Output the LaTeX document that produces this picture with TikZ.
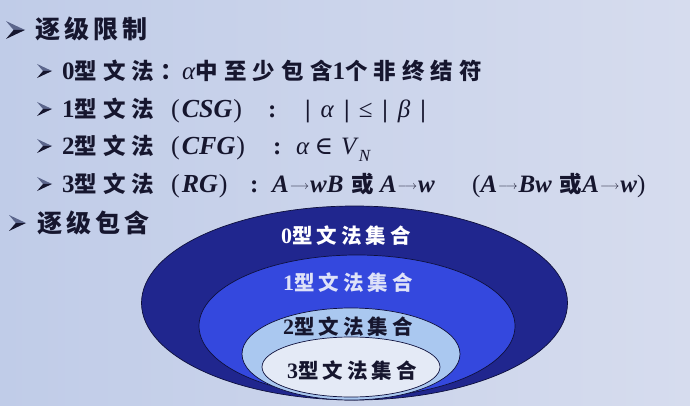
\documentclass[tikz,border=0pt]{standalone}
\usepackage{fontspec}
\setmainfont{Liberation Serif}
\newfontfamily\cjk{Noto Sans CJK SC}
\newfontfamily\symserif{DejaVu Serif}
% CJK run with extra tracking
\newcommand\zh[2][27]{{\cjk\bfseries\addfontfeature{LetterSpace=#1}#2}}
\newcommand\lb[1]{{\bfseries #1}}
\newcommand\li[1]{{\bfseries\itshape #1}}
\newcommand\fs[1]{\fontsize{#1}{#1}\selectfont}
% long thin production arrow
\newcommand\arr{\hspace{1pt}\raisebox{3.5pt}{\fs{12}$\longrightarrow$}\hspace{1pt}}

\definecolor{bgL}{RGB}{192,204,232}
\definecolor{bgR}{RGB}{214,220,238}
\definecolor{ink}{RGB}{22,22,46}
\definecolor{inklight}{RGB}{92,102,140}
\definecolor{set0}{RGB}{32,38,142}
\definecolor{set1}{RGB}{52,72,222}
\definecolor{set2}{RGB}{170,200,240}
\definecolor{set3}{RGB}{228,234,246}
\definecolor{rim}{RGB}{14,16,60}
\definecolor{lbl1}{RGB}{222,226,248}

\tikzset{
  txt/.style={inner sep=0pt, anchor=base west, text=ink},
  lvlone/.style={txt, font=\fs{25}},
  lvltwo/.style={txt, font=\fs{25}},
  setring/.style={draw=rim, line width=0.7pt},
  setlabel/.style={inner sep=0pt, anchor=base, font=\fs{22}},
  % arrowhead bullet, tip at the pic origin, #1 = width
  pics/arrowbullet/.style={code={
    \fill[inklight] (0,0) -- (-#1,-0.47*#1) -- (-0.6*#1,0) -- cycle;
    \fill[ink] (0,0) -- (-0.6*#1,0) -- (-#1,0.47*#1) -- cycle;
  }},
}

\begin{document}
\begin{tikzpicture}[x=1pt,y=-1pt]
\useasboundingbox (0,0) rectangle (690,406);
\fill[left color=bgL, right color=bgR] (0,0) rectangle (690,406);

% headings
\pic at (25,30) {arrowbullet=19};
\node[lvlone] (h1) at (35,39) {\zh[16]{\fs{25}逐级限制}};

% grammar levels
\pic at (52,71) {arrowbullet=15};
\node[lvltwo] (t2a) at (62,80) {\lb{0}\zh{\fs{22.5}型文法：}};
\node[lvltwo] (t2b) at (182,80) {\textit{α}\zh{\fs{22.5}中至少包含}\lb{1}\zh{\fs{22.5}个非终结符}};

\pic at (52,109) {arrowbullet=15};
\node[lvltwo] (t3a) at (62,118) {\lb{1}\zh{\fs{22.5}型文法}};
\node[lvltwo, font=\fs{26}] (t3b) at (171,118) {(\hspace{2pt}\li{CSG}\hspace{1pt})};
\node[lvltwo] (t3c) at (268,118) {\lb{:}};
\node[lvltwo] (t3d) at (305,118) {\lb{|}\hspace{10pt}\textit{α}\hspace{10pt}\lb{|}\hspace{9pt}≤\hspace{10pt}\lb{|}\hspace{10pt}\textit{β}\hspace{10pt}\lb{|}};

\pic at (52,146) {arrowbullet=15};
\node[lvltwo] (t4a) at (62,155) {\lb{2}\zh{\fs{22.5}型文法}};
\node[lvltwo, font=\fs{26}] (t4b) at (171,155) {(\hspace{2pt}\li{CFG}\hspace{1pt})};
\node[lvltwo] (t4c) at (273,155) {\lb{:}};
\node[lvltwo] (t4d) at (296,155) {\textit{α}\hspace{5pt}{\symserif ∈}\hspace{8pt}\textit{V}\raisebox{-7pt}{\fs{17}\textit{N}}};

\pic at (52,184) {arrowbullet=15};
\node[lvltwo] (t5a) at (62,193) {\lb{3}\zh{\fs{22.5}型文法}};
\node[lvltwo, font=\fs{26}] (t5b) at (171,193) {(\hspace{2pt}\li{RG}\hspace{1pt})};
\node[lvltwo] (t5c) at (250,193) {\lb{:}};
\node[lvltwo] (t5d) at (272,193) {\li{A}\arr\li{wB}\hspace{8pt}\zh[0]{\fs{22.5}或}\hspace{6pt}\li{A}\arr\li{w}};
\node[lvltwo] (t5e) at (472,193) {(\li{A}\arr\li{Bw}\hspace{8pt}\zh[0]{\fs{22.5}或}\li{A}\arr\li{w})};

\pic at (26,223) {arrowbullet=17};
\node[lvlone] (h2) at (37,232) {\zh[16]{\fs{25}逐级包含}};

% nested language classes
\fill[set0] (354.5,303) ellipse [x radius=213, y radius=97];
\draw[setring] (354.5,303) ellipse [x radius=213, y radius=97];
\filldraw[set1, setring] (357,326) ellipse [x radius=158, y radius=71];
\filldraw[set2, setring] (351,354) ellipse [x radius=109, y radius=46];
\filldraw[set3, setring] (351,367) ellipse [x radius=89, y radius=30];

\node[setlabel, text=white] (c0) at (346,243) {\lb{0}\zh[20]{\fs{20.5}型文法集合}};
\node[setlabel, text=lbl1] (c1) at (348,290) {\lb{1}\zh[20]{\fs{20.5}型文法集合}};
\node[setlabel, text=ink] (c2) at (348,334) {\lb{2}\zh[20]{\fs{20.5}型文法集合}};
\node[setlabel, text=ink] (c3) at (352,378) {\lb{3}\zh[20]{\fs{20.5}型文法集合}};
\end{tikzpicture}
\end{document}
